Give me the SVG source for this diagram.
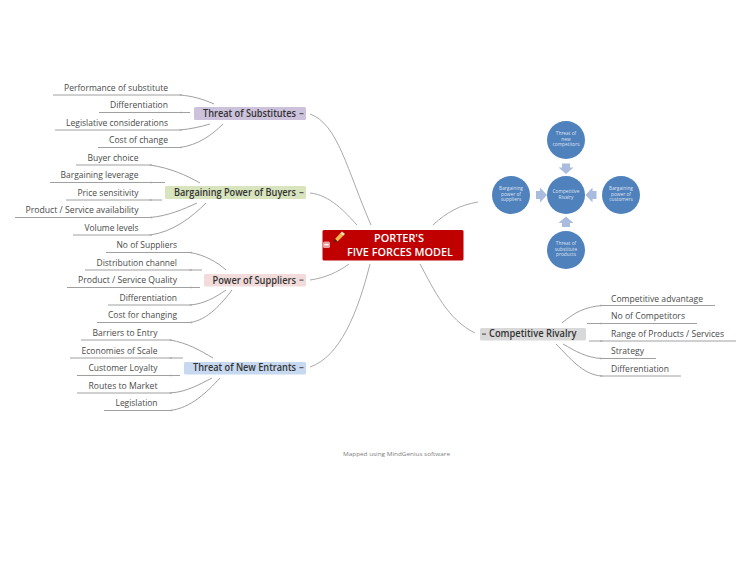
<svg xmlns="http://www.w3.org/2000/svg" width="750" height="563" viewBox="0 0 750 563">
<style>
text{font-family:"Open Sans","Liberation Sans",sans-serif}
.c{fill:none;stroke:#aaa;stroke-width:1}
.u{fill:none;stroke:#a0a0a0;stroke-width:1}
.t{font-size:9px;fill:#4a4a4a;text-anchor:end}
.l{font-size:9px;fill:#4a4a4a}
.b{font-size:10px;font-weight:600;fill:#333}
.m{fill:#595959}
.o{fill:#4f81bd}
.a{fill:#a9bcdd}
.w{font-size:4.800px;fill:#fff;fill-opacity:.8;text-anchor:middle}
.k{fill:#a0a0a0}
</style>
<rect width="750" height="563" fill="#fff"/>
<g id="connectors">
<path class="c" d="M310 114C338 124 347 170 371 225"/>
<path class="c" d="M310 193C330 195 345 212 357 225"/>
<path class="c" d="M310 280C325 278 338 272 349 264"/>
<path class="c" d="M310 367C340 357 358 312 370 264"/>
<path class="c" d="M433 225C447 212 460 205 478 202"/>
<path class="c" d="M420 264C434 290 448 320 475 333"/>
<path class="u" d="M53 95H180C192 96 203 99 214 104"/>
<path class="u" d="M99 112.500H190"/>
<path class="u" d="M55 130H180C190 129 200 127 210 124"/>
<path class="u" d="M98 147.500H180C198 145 212 135 223 124"/>
<path class="u" d="M76 165H150C170 168 186 175 200 183"/>
<path class="u" d="M50 182.500H165"/>
<path class="u" d="M66 200H162"/>
<path class="u" d="M15 217.500H150C168 216 184 209 197 203"/>
<path class="u" d="M73 235H150C173 232 192 217 206 203"/>
<path class="u" d="M106 252.500H190C205 255 217 262 226 270"/>
<path class="u" d="M85 270H202"/>
<path class="u" d="M67 287.500H200"/>
<path class="u" d="M108 305H190C204 304 216 297 226 290"/>
<path class="u" d="M97 322.500H190C208 320 222 303 232 290"/>
<path class="u" d="M81 340H170C188 343 201 351 213 358"/>
<path class="u" d="M70 358H183"/>
<path class="u" d="M77 375.500H180"/>
<path class="u" d="M77 393H170C187 392 200 384 212 378"/>
<path class="u" d="M104 410.500H170C191 408 207 392 220 378"/>
<path class="u" d="M562 323C575 312 585 307 602 305.500H715"/>
<path class="u" d="M587 323.500H697"/>
<path class="u" d="M589 341H736"/>
<path class="u" d="M563 344C575 351 587 358 602 358.500H656"/>
<path class="u" d="M556 344C570 358 583 375 602 376H681"/>
<g id="ticks" class="k">
<path d="M179 95l2.500-1v2Z"/><path d="M179 112.500l2.500-1v2Z"/><path d="M179 130l2.500-1v2Z"/><path d="M179 147.500l2.500-1v2Z"/>
<path d="M149 165l2.500-1v2Z"/><path d="M149 182.500l2.500-1v2Z"/><path d="M149 200l2.500-1v2Z"/><path d="M149 217.500l2.500-1v2Z"/><path d="M149 235l2.500-1v2Z"/>
<path d="M189 252.500l2.500-1v2Z"/><path d="M189 270l2.500-1v2Z"/><path d="M189 287.500l2.500-1v2Z"/><path d="M189 305l2.500-1v2Z"/><path d="M189 322.500l2.500-1v2Z"/>
<path d="M169 340l2.500-1v2Z"/><path d="M169 358l2.500-1v2Z"/><path d="M169 375.500l2.500-1v2Z"/><path d="M169 393l2.500-1v2Z"/><path d="M169 410.500l2.500-1v2Z"/>
<path d="M603 305.500l-2.500-1v2Z"/><path d="M603 323.500l-2.500-1v2Z"/><path d="M603 341l-2.500-1v2Z"/><path d="M603 358.500l-2.500-1v2Z"/><path d="M603 376l-2.500-1v2Z"/>
</g>
</g>
<g id="threat-of-substitutes">
<rect x="194" y="107" width="112" height="13" rx="1.500" fill="#cdc2dc"/>
<text class="b" x="203" y="116.800" textLength="93" lengthAdjust="spacingAndGlyphs">Threat of Substitutes</text>
<rect class="m" x="299.500" y="113" width="4" height="1.200"/>
<text class="t" x="168" y="90.500" textLength="104" lengthAdjust="spacingAndGlyphs">Performance of substitute</text>
<text class="t" x="168" y="108" textLength="58" lengthAdjust="spacingAndGlyphs">Differentiation</text>
<text class="t" x="168" y="125.500" textLength="102" lengthAdjust="spacingAndGlyphs">Legislative considerations</text>
<text class="t" x="168" y="143" textLength="59" lengthAdjust="spacingAndGlyphs">Cost of change</text>
</g>
<g id="bargaining-power-of-buyers">
<rect x="165" y="186" width="141" height="13" rx="1.500" fill="#d7e4bd"/>
<text class="b" x="174" y="195.800" textLength="122" lengthAdjust="spacingAndGlyphs">Bargaining Power of Buyers</text>
<rect class="m" x="299.500" y="192" width="4" height="1.200"/>
<text class="t" x="138.500" y="160.500" textLength="51" lengthAdjust="spacingAndGlyphs">Buyer choice</text>
<text class="t" x="138.500" y="178" textLength="78" lengthAdjust="spacingAndGlyphs">Bargaining leverage</text>
<text class="t" x="138.500" y="195.500" textLength="61" lengthAdjust="spacingAndGlyphs">Price sensitivity</text>
<text class="t" x="138.500" y="213" textLength="113" lengthAdjust="spacingAndGlyphs">Product / Service availability</text>
<text class="t" x="138.500" y="230.500" textLength="54" lengthAdjust="spacingAndGlyphs">Volume levels</text>
</g>
<g id="power-of-suppliers">
<rect x="204" y="274" width="102" height="12.500" rx="1.500" fill="#f2dcdb"/>
<text class="b" x="212.500" y="283.500" textLength="83.500" lengthAdjust="spacingAndGlyphs">Power of Suppliers</text>
<rect class="m" x="299.500" y="279.500" width="4" height="1.200"/>
<text class="t" x="177" y="248" textLength="60.500" lengthAdjust="spacingAndGlyphs">No of Suppliers</text>
<text class="t" x="177" y="265.500" textLength="80.500" lengthAdjust="spacingAndGlyphs">Distribution channel</text>
<text class="t" x="177" y="283" textLength="99" lengthAdjust="spacingAndGlyphs">Product / Service Quality</text>
<text class="t" x="177" y="300.500" textLength="57.500" lengthAdjust="spacingAndGlyphs">Differentiation</text>
<text class="t" x="177" y="318" textLength="69" lengthAdjust="spacingAndGlyphs">Cost for changing</text>
</g>
<g id="threat-of-new-entrants">
<rect x="184" y="362" width="122" height="12.500" rx="1.500" fill="#c6d9f0"/>
<text class="b" x="193" y="371" textLength="103" lengthAdjust="spacingAndGlyphs">Threat of New Entrants</text>
<rect class="m" x="299.500" y="367" width="4" height="1.200"/>
<text class="t" x="157.500" y="336" textLength="65" lengthAdjust="spacingAndGlyphs">Barriers to Entry</text>
<text class="t" x="157.500" y="353.500" textLength="76" lengthAdjust="spacingAndGlyphs">Economies of Scale</text>
<text class="t" x="157.500" y="371" textLength="69" lengthAdjust="spacingAndGlyphs">Customer Loyalty</text>
<text class="t" x="157.500" y="388.500" textLength="69" lengthAdjust="spacingAndGlyphs">Routes to Market</text>
<text class="t" x="157.500" y="406" textLength="42" lengthAdjust="spacingAndGlyphs">Legislation</text>
</g>
<g id="porters-five-forces-model">
<rect x="322.500" y="230" width="141" height="30.500" rx="1.500" fill="#c00000"/>
<text x="399" y="241.500" font-size="11" font-weight="600" fill="#fff" text-anchor="middle" textLength="50" lengthAdjust="spacingAndGlyphs">PORTER'S</text>
<text x="400" y="256" font-size="11" font-weight="600" fill="#fff" text-anchor="middle" textLength="106" lengthAdjust="spacingAndGlyphs">FIVE FORCES MODEL</text>
<path d="M335 239L340 233.500L343 236L337.500 241.500Z" fill="#f2b84b"/>
<path d="M340 233.500L342 231.500L345 234L343 236Z" fill="#f6e0a8"/>
<path d="M335 239L337.500 241.500L334 242.500Z" fill="#3b2a20"/>
<rect x="323" y="241.500" width="7" height="6.500" rx="1.500" fill="#e8a0a0"/>
<rect x="324.500" y="244" width="4" height="1.300" fill="#fff"/>
</g>
<g id="competitive-forces-graphic">
<circle class="o" cx="566" cy="140" r="19"/>
<circle class="o" cx="566" cy="195" r="19"/>
<circle class="o" cx="511" cy="195" r="19"/>
<circle class="o" cx="621" cy="195" r="19"/>
<circle class="o" cx="566" cy="250" r="19"/>
<path class="a" d="M562 163.500h8v4h3.500l-7.500 6.500l-7.500-6.500h3.500Z"/>
<path class="a" d="M562 227v-4h-3.500l7.500-6.500l7.500 6.500h-3.500v4Z"/>
<path class="a" d="M536 191h4v-3.500l7 7.500l-7 7.500v-3.500h-4Z"/>
<path class="a" d="M596.500 191v8h-4v3.500l-7-7.500l7-7.500v3.500Z"/>
<text class="w" x="566" y="135">Threat of</text><text class="w" x="566" y="140.500">new</text><text class="w" x="566" y="146">competitors</text>
<text class="w" x="566" y="193">Competitive</text><text class="w" x="566" y="198.500">Rivalry</text>
<text class="w" x="511" y="190">Bargaining</text><text class="w" x="511" y="195.500">power of</text><text class="w" x="511" y="201">suppliers</text>
<text class="w" x="621" y="190">Bargaining</text><text class="w" x="621" y="195.500">power of</text><text class="w" x="621" y="201">customers</text>
<text class="w" x="566" y="245">Threat of</text><text class="w" x="566" y="250.500">substitute</text><text class="w" x="566" y="256">products</text>
</g>
<g id="competitive-rivalry">
<rect x="480" y="328" width="106" height="12.500" rx="1.500" fill="#d9d9d9"/>
<text class="b" x="489" y="337" textLength="87.500" lengthAdjust="spacingAndGlyphs">Competitive Rivalry</text>
<rect class="m" x="482" y="333.500" width="4" height="1.200"/>
<text class="l" x="611" y="301.500" textLength="92" lengthAdjust="spacingAndGlyphs">Competitive advantage</text>
<text class="l" x="611" y="319" textLength="74" lengthAdjust="spacingAndGlyphs">No of Competitors</text>
<text class="l" x="611" y="336.500" textLength="113" lengthAdjust="spacingAndGlyphs">Range of Products / Services</text>
<text class="l" x="611" y="354" textLength="33" lengthAdjust="spacingAndGlyphs">Strategy</text>
<text class="l" x="611" y="371.500" textLength="58" lengthAdjust="spacingAndGlyphs">Differentiation</text>
</g>
<text id="footer" x="343" y="456" font-size="6" fill="#808080" textLength="107" lengthAdjust="spacingAndGlyphs">Mapped using MindGenius software</text>
</svg>
